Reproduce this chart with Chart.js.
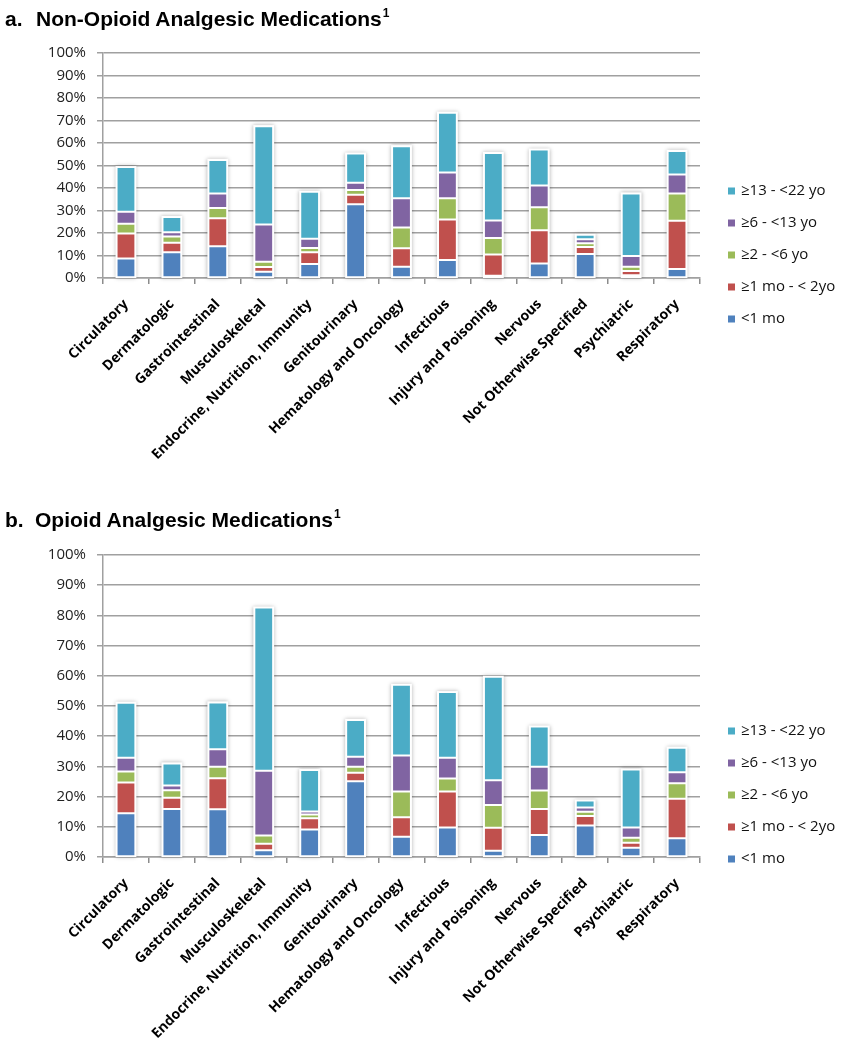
<!DOCTYPE html>
<html>
<head>
<meta charset="utf-8">
<script src="https://cdn.jsdelivr.net/npm/chart.js@4.4.1/dist/chart.umd.min.js"></script>
<style>
  body { margin: 0; background: #fff; width: 842px; height: 1050px; position: relative; overflow: hidden; }
  .wrap { position: absolute; left: 0; width: 842px; }
  .title { position: absolute; font-family: "Liberation Sans", Arial, sans-serif; font-weight: bold; font-size: 21px; line-height: 24px; color: #000; white-space: nowrap; }
  .title sup { font-size: 12px; position: relative; top: -9px; vertical-align: baseline; margin-left: 1px; }
</style>
</head>
<body>
<div class="wrap" style="top:0; height:490px;"><canvas id="chartA" width="842" height="490"></canvas></div>
<div class="wrap" style="top:500px; height:550px;"><canvas id="chartB" width="842" height="550"></canvas></div>

<div class="title" style="left:5px; top:7px;">a.</div>
<div class="title" style="left:36px; top:7px;">Non-Opioid Analgesic Medications<sup>1</sup></div>
<div class="title" style="left:5px; top:508px;">b.</div>
<div class="title" style="left:35px; top:508px;">Opioid Analgesic Medications<sup>1</sup></div>

<script>
const categories = ['Circulatory', 'Dermatologic', 'Gastrointestinal', 'Musculoskeletal',
  'Endocrine, Nutrition, Immunity', 'Genitourinary', 'Hematology and Oncology', 'Infectious',
  'Injury and Poisoning', 'Nervous', 'Not Otherwise Specified', 'Psychiatric', 'Respiratory'];

const seriesLabels = ['<1 mo', '≥1 mo - < 2yo', '≥2 - <6 yo', '≥6 - <13 yo', '≥13 - <22 yo'];
const seriesColors = ['#4F81BD', '#C0504D', '#9BBB59', '#8064A2', '#4BACC6'];
const yTickValues = [0, 10, 20, 30, 40, 50, 60, 70, 80, 90, 100];

// a. non-opioid analgesics (% of patients)
const nonOpioidLt1mo   = [8.7, 11.4, 14.1, 2.8, 6.2, 32.8, 5.0, 8.0, 1.0, 6.5, 10.7, 1.2, 4.0];
const nonOpioid1moTo2y = [11.1, 4.3, 12.5, 2.1, 5.3, 4.2, 8.2, 18.0, 9.4, 14.7, 3.1, 1.9, 21.4];
const nonOpioid2To6y   = [4.3, 2.8, 4.5, 2.3, 1.8, 2.1, 9.3, 9.5, 7.4, 10.2, 1.6, 1.9, 12.2];
const nonOpioid6To13y  = [5.3, 1.8, 6.5, 16.6, 4.2, 3.2, 12.9, 11.4, 7.8, 9.7, 1.8, 4.8, 8.4];
const nonOpioid13To22y = [19.9, 6.8, 14.9, 43.7, 20.8, 13.0, 23.2, 26.6, 30.0, 16.0, 2.0, 27.8, 10.5];

// b. opioid analgesics
const opioidLt1mo   = [14.5, 15.9, 15.8, 2.2, 9.1, 25.1, 6.7, 9.8, 2.1, 7.3, 10.4, 3.1, 6.2];
const opioid1moTo2y = [10.2, 3.7, 10.3, 2.2, 3.7, 2.8, 6.5, 11.9, 7.6, 8.6, 3.2, 1.6, 13.1];
const opioid2To6y   = [3.6, 2.5, 3.8, 2.7, 1.3, 2.0, 8.5, 4.3, 7.5, 6.1, 1.4, 1.7, 5.1];
const opioid6To13y  = [4.6, 1.6, 5.8, 21.5, 1.0, 3.3, 11.9, 6.9, 8.2, 7.9, 1.4, 3.4, 3.7];
const opioid13To22y = [18.2, 7.3, 15.5, 54.0, 13.7, 12.2, 23.4, 21.7, 34.3, 13.3, 2.3, 19.2, 8.1];

// white halo + soft shadow behind each stacked column
const barHalo = {
  id: 'barHalo',
  beforeDatasetsDraw(chart) {
    const ctx = chart.ctx;
    const base = chart.scales.y.getPixelForValue(0);
    const metas = chart.data.datasets.map((d, i) => chart.getDatasetMeta(i));
    ctx.save();
    ctx.fillStyle = '#fff';
    ctx.shadowColor = 'rgba(0,0,0,0.3)';
    ctx.shadowBlur = 4;
    metas[0].data.forEach((bar, i) => {
      let top = base;
      metas.forEach(m => { top = Math.min(top, m.data[i].y); });
      const w = bar.width + 2;
      ctx.fillRect(bar.x - w / 2, top - 1, w, base - top + 1);
    });
    ctx.restore();
  }
};

// legend on the right, last series on top
const sideLegend = {
  id: 'sideLegend',
  afterDraw(chart, args, opts) {
    const ctx = chart.ctx;
    ctx.save();
    ctx.font = '15px "Open Sans"';
    ctx.textBaseline = 'middle';
    ctx.textAlign = 'left';
    chart.data.datasets.slice().reverse().forEach((d, i) => {
      const y = opts.top + i * opts.gap;
      ctx.fillStyle = d.backgroundColor;
      ctx.fillRect(opts.left, y - 3.5, 7, 7);
      ctx.fillStyle = '#111';
      ctx.fillText(d.label, opts.left + 13, y);
    });
    ctx.restore();
  }
};

function makeChart(id, series, plotTop, xAxisHeight, legendTop) {
  new Chart(document.getElementById(id), {
    type: 'bar',
    data: {
      labels: categories,
      datasets: series.map((vals, i) => ({
        label: seriesLabels[i],
        data: vals,
        backgroundColor: seriesColors[i],
        borderColor: '#ffffff',
        borderWidth: 1,
        borderSkipped: false,
        barPercentage: 0.41,
        categoryPercentage: 1
      }))
    },
    options: {
      responsive: false,
      animation: false,
      layout: { padding: { top: plotTop, right: 142, left: 0, bottom: 0 } },
      plugins: {
        legend: { display: false },
        tooltip: { enabled: false },
        sideLegend: { left: 728, top: legendTop, gap: 32 }
      },
      scales: {
        x: {
          stacked: true,
          grid: { display: true, drawOnChartArea: false, drawTicks: true, tickLength: 6, color: '#8c8c8c', lineWidth: 1.5, offset: true },
          border: { display: true, color: '#a0a0a0', width: 1.5 },
          ticks: {
            minRotation: 45, maxRotation: 45, autoSkip: false, padding: 12, color: '#000',
            font: { family: 'Open Sans', weight: 'bold', size: 14 }
          },
          afterFit(scale) { scale.height = xAxisHeight; }
        },
        y: {
          stacked: true,
          min: 0,
          max: 100,
          afterBuildTicks(scale) { scale.ticks = yTickValues.map(v => ({ value: v })); },
          ticks: { callback: v => v + '%', color: '#222', padding: 11, font: { family: 'Open Sans', size: 15 } },
          grid: { color: '#a0a0a0', lineWidth: 1.5, tickLength: 6 },
          border: { color: '#a0a0a0', width: 1.5 },
          afterFit(scale) { scale.width = 103; }
        }
      }
    },
    plugins: [barHalo, sideLegend]
  });
}

makeChart('chartA', [nonOpioidLt1mo, nonOpioid1moTo2y, nonOpioid2To6y, nonOpioid6To13y, nonOpioid13To22y], 53, 212, 191);
makeChart('chartB', [opioidLt1mo, opioid1moTo2y, opioid2To6y, opioid6To13y, opioid13To22y], 55, 193, 231);
</script>
</body>
</html>
